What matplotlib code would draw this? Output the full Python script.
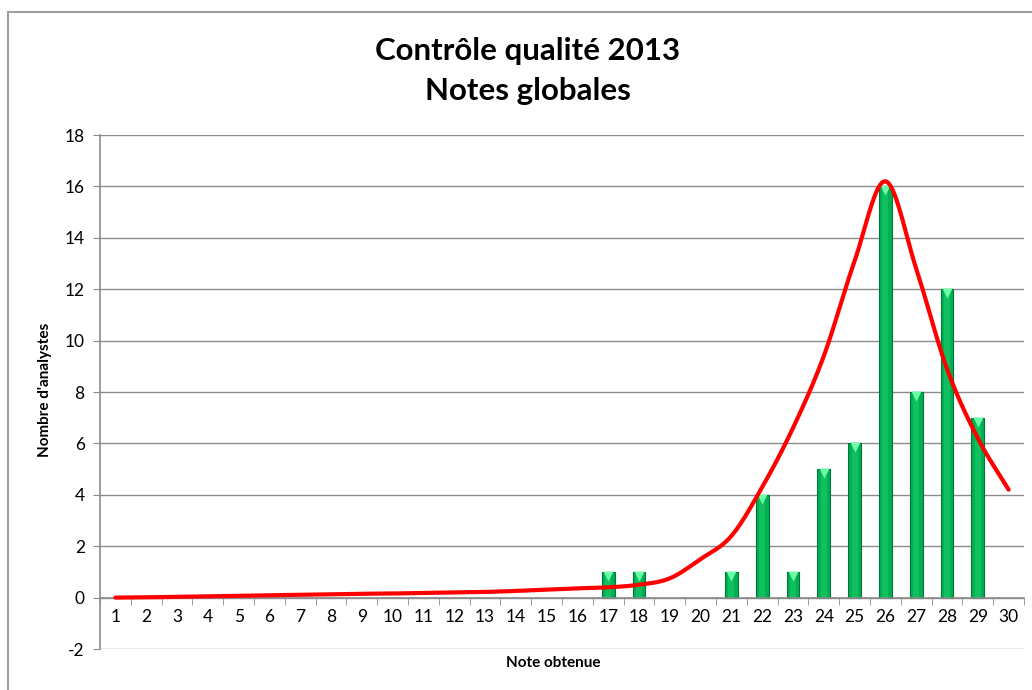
import numpy as np
import matplotlib
matplotlib.use("Agg")
import matplotlib.pyplot as plt
from matplotlib.lines import Line2D

categories = list(range(1, 31))
bar_values = [0, 0, 0, 0, 0, 0, 0, 0, 0, 0, 0, 0, 0, 0, 0, 0,
              1, 1, 0, 0, 1, 4, 1, 5, 6, 16, 8, 12, 7, 0]
curve_values = [0.0, 0.01, 0.03, 0.05, 0.07, 0.09, 0.11, 0.13, 0.15, 0.16,
                0.18, 0.2, 0.22, 0.26, 0.31, 0.36, 0.4, 0.5, 0.75, 1.5,
                2.4, 4.3, 6.6, 9.4, 13.1, 16.2, 12.8, 8.9, 6.2, 4.2]
title = "Contrôle qualité 2013\nNotes globales"
y_ticks = list(range(-2, 19, 2))

plt.rcParams['font.family'] = ['Lato', 'DejaVu Sans']

fig = plt.figure(figsize=(10.32, 6.9), dpi=100)
ax = fig.add_axes([100/1032, 41/690, 924/1032, 514/690])

x = np.arange(len(categories))

# grid lines
for yv in y_ticks:
    ax.axhline(yv, color='#8c8c8c', lw=1.0, zorder=0)

# bars
nz = [i for i, v in enumerate(bar_values) if v > 0]
bx = x[nz]
bv = np.array(bar_values)[nz]
ax.bar(bx, bv, width=0.42, color='#00B050', edgecolor='#00743A', linewidth=0.8, zorder=2)
ax.bar(bx, bv, width=0.2, color='#10C060', edgecolor='none', linewidth=0, zorder=2)
ax.plot(bx, bv - 0.15, linestyle='none', marker='v', markersize=7,
        color='#6BFFA8', markeredgecolor='none', zorder=3)

# smoothed curve (Catmull-Rom rendering of the data points)
def catmull(xs, ys, n=20):
    xs = np.asarray(xs, float); ys = np.asarray(ys, float)
    px = np.concatenate([[2*xs[0]-xs[1]], xs, [2*xs[-1]-xs[-2]]])
    py = np.concatenate([[2*ys[0]-ys[1]], ys, [2*ys[-1]-ys[-2]]])
    ox, oy = [], []
    for i in range(1, len(px)-2):
        t = np.linspace(0, 1, n, endpoint=False)
        for P, out in ((px, ox), (py, oy)):
            p0, p1, p2, p3 = P[i-1], P[i], P[i+1], P[i+2]
            out.extend(0.5*((2*p1) + (-p0+p2)*t + (2*p0-5*p1+4*p2-p3)*t**2
                            + (-p0+3*p1-3*p2+p3)*t**3))
    ox.append(xs[-1]); oy.append(ys[-1])
    return np.array(ox), np.array(oy)

sx, sy = catmull(x, curve_values)
ax.plot(sx, sy, color='#FF0000', lw=3, zorder=4, solid_capstyle='round')

ax.set_xlim(-0.5, len(categories) - 0.5)
ax.set_ylim(-2, 18)
ax.set_yticks(y_ticks)
ax.set_yticklabels([str(v) for v in y_ticks], fontsize=12.5)

for s in ['top', 'right']:
    ax.spines[s].set_visible(False)
ax.spines['left'].set_color('#8c8c8c')
ax.spines['left'].set_linewidth(1.2)
ax.spines['bottom'].set_position(('data', 0))
ax.spines['bottom'].set_color('#8c8c8c')
ax.spines['bottom'].set_linewidth(1.2)

ax.set_xticks(x)
ax.set_xticklabels([str(c) for c in categories], fontsize=12.5)
ax.set_xticks(np.arange(-0.5, len(categories), 1.0), minor=True)
ax.tick_params(axis='x', which='major', length=0, pad=8)
ax.tick_params(axis='x', which='minor', length=5, color='#8c8c8c', direction='out')
ax.tick_params(axis='y', which='major', length=5, color='#8c8c8c', pad=6)

fig.text(553/1032, 1 - 663/690, "Note obtenue", ha='center', va='center',
         fontsize=11, fontweight='bold')
fig.text(45/1032, 1 - 390/690, "Nombre d'analystes", ha='center', va='center',
         rotation=90, fontsize=11, fontweight='bold')
fig.text(528/1032, 1 - 71/690, title, ha='center', va='center',
         fontsize=22.5, fontweight='bold', linespacing=1.5)

# chart border
fig.add_artist(Line2D([8/1032, 8/1032], [0, 1 - 12/690], color='#a0a0a0', lw=1.5,
                      transform=fig.transFigure))
fig.add_artist(Line2D([8/1032, 1], [1 - 12/690, 1 - 12/690], color='#a0a0a0', lw=1.5,
                      transform=fig.transFigure))

fig.savefig("out.png", dpi=100)
